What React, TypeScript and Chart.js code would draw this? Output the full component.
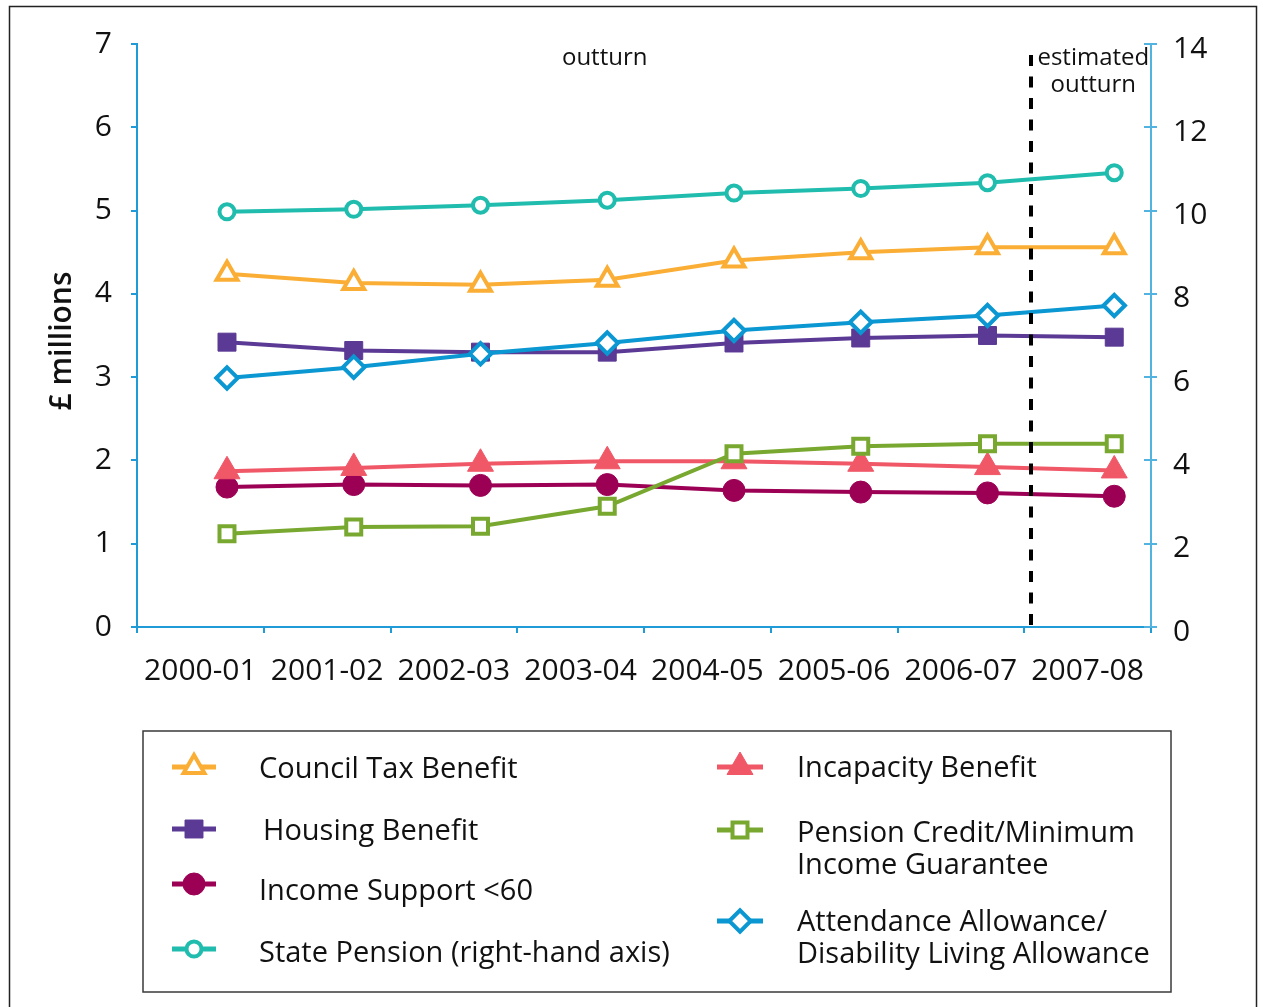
import React, { useEffect, useRef } from 'react';
import { Chart, registerables } from 'chart.js';
import { drawPoint } from 'chart.js/helpers';

Chart.register(...registerables);

// ---------- data ----------
const categories = ['2000-01', '2001-02', '2002-03', '2003-04', '2004-05', '2005-06', '2006-07', '2007-08'];
const councilTax = [4.24, 4.13, 4.11, 4.17, 4.40, 4.50, 4.56, 4.56];
const housing = [3.42, 3.32, 3.30, 3.30, 3.41, 3.47, 3.50, 3.48];
const incomeSupport = [1.68, 1.71, 1.70, 1.71, 1.64, 1.62, 1.61, 1.57];
const statePension = [9.97, 10.03, 10.13, 10.25, 10.42, 10.53, 10.67, 10.91]; // right-hand axis
const incapacity = [1.87, 1.91, 1.96, 1.99, 1.99, 1.96, 1.92, 1.88];
const pensionCredit = [1.12, 1.20, 1.21, 1.45, 2.08, 2.17, 2.20, 2.20];
const attendance = [2.99, 3.12, 3.28, 3.41, 3.56, 3.66, 3.74, 3.86];

const leftTicks = [0, 1, 2, 3, 4, 5, 6, 7];
const rightTicks = [0, 2, 4, 6, 8, 10, 12, 14];

// ---------- styling ----------
const FONT = "'Open Sans', sans-serif";
const AXIS_BLUE = '#1f9bd7';
const AXIS_BLUE_R = '#52b2e0';
const POINT_OFFSET = 0.71; // points sit right of category centre
const DIVIDER_AT = 7.05;   // position of dashed "estimated outturn" divider on the category scale

type SeriesDef = {
  key: string;
  label: string[];
  data: number[];
  axis: 'y' | 'y1';
  color: string;
  style: string;
  radius: number;
  filled: boolean;
  pbw: number;
  order: number;
};

const series: SeriesDef[] = [
  { key: 'ct', label: ['Council Tax Benefit'], data: councilTax, axis: 'y', color: '#fbae35', style: 'triangle', radius: 12, filled: false, pbw: 4, order: 3 },
  { key: 'hb', label: ['Housing Benefit'], data: housing, axis: 'y', color: '#5b3a95', style: 'rect', radius: 12.7, filled: true, pbw: 1, order: 6 },
  { key: 'is', label: ['Income Support <60'], data: incomeSupport, axis: 'y', color: '#9c0055', style: 'circle', radius: 11, filled: true, pbw: 1, order: 5 },
  { key: 'sp', label: ['State Pension (right-hand axis)'], data: statePension, axis: 'y1', color: '#20bcae', style: 'circle', radius: 7.5, filled: false, pbw: 4, order: 2 },
  { key: 'ib', label: ['Incapacity Benefit'], data: incapacity, axis: 'y', color: '#f05868', style: 'triangle', radius: 15, filled: true, pbw: 1, order: 4 },
  { key: 'pc', label: ['Pension Credit/Minimum', 'Income Guarantee'], data: pensionCredit, axis: 'y', color: '#78a82f', style: 'rect', radius: 10.6, filled: false, pbw: 4, order: 1 },
  { key: 'aa', label: ['Attendance Allowance/', 'Disability Living Allowance'], data: attendance, axis: 'y', color: '#0a97d2', style: 'rectRot', radius: 10.7, filled: false, pbw: 4, order: 0 },
];

// legend layout: [series key, marker y, text x, text baselines]
const legendLeft = [
  { key: 'ct', y: 767, tx: 259, ty: [778] },
  { key: 'hb', y: 829, tx: 263, ty: [840] },
  { key: 'is', y: 884, tx: 259, ty: [900] },
  { key: 'sp', y: 949, tx: 259, ty: [962] },
];
const legendRight = [
  { key: 'ib', y: 767, tx: 797, ty: [777] },
  { key: 'pc', y: 830, tx: 797, ty: [842, 874] },
  { key: 'aa', y: 921, tx: 797, ty: [931, 963] },
];

const overlayPlugin = {
  id: 'overlay',
  afterDatasetsDraw(chart: any) {
    const ctx = chart.ctx;
    const xs = chart.scales.xData;
    const area = chart.chartArea;
    const x = Math.round(xs.getPixelForValue(DIVIDER_AT));
    ctx.save();
    ctx.strokeStyle = '#000';
    ctx.lineWidth = 4;
    ctx.setLineDash([11, 10.5]);
    ctx.beginPath();
    ctx.moveTo(x, area.top + 11);
    ctx.lineTo(x, area.bottom + 7);
    ctx.stroke();
    ctx.restore();
  },
  afterDraw(chart: any) {
    const ctx = chart.ctx;
    const xs = chart.scales.xData;
    const y1 = chart.scales.y1;
    const area = chart.chartArea;
    ctx.save();

    // inward tick stubs on right axis
    ctx.strokeStyle = AXIS_BLUE_R;
    ctx.lineWidth = 2;
    rightTicks.forEach((v) => {
      const py = Math.round(y1.getPixelForValue(v));
      ctx.beginPath();
      ctx.moveTo(area.right - 7, py);
      ctx.lineTo(area.right, py);
      ctx.stroke();
    });

    // annotations
    ctx.fillStyle = '#111';
    ctx.font = `24px ${FONT}`;
    ctx.textAlign = 'center';
    ctx.textBaseline = 'alphabetic';
    ctx.fillText('outturn', xs.getPixelForValue(3.69), 65);
    ctx.fillText('estimated', xs.getPixelForValue(7.545), 65);
    ctx.fillText('outturn', xs.getPixelForValue(7.545), 92);

    // y-axis title
    ctx.save();
    ctx.translate(62, 341);
    ctx.rotate(-Math.PI / 2);
    ctx.font = `600 30px ${FONT}`;
    ctx.textAlign = 'center';
    ctx.textBaseline = 'middle';
    ctx.fillText('£ millions', 0, 0);
    ctx.restore();

    // legend box
    ctx.strokeStyle = '#3a3a3a';
    ctx.lineWidth = 1.5;
    ctx.strokeRect(143, 731, 1028, 261);

    const drawItem = (it: any, x1: number, x2: number, mx: number) => {
      const s = series.find((d) => d.key === it.key)!;
      ctx.strokeStyle = s.color;
      ctx.lineWidth = 5;
      ctx.setLineDash([]);
      ctx.beginPath();
      ctx.moveTo(x1, it.y);
      ctx.lineTo(x2, it.y);
      ctx.stroke();
      ctx.fillStyle = s.filled ? s.color : '#ffffff';
      ctx.strokeStyle = s.color;
      ctx.lineWidth = s.pbw;
      ctx.lineJoin = 'miter';
      drawPoint(ctx, { pointStyle: s.style, rotation: 0, radius: s.radius, borderWidth: s.pbw } as any, mx, it.y);
      ctx.fillStyle = '#111';
      ctx.font = `29px ${FONT}`;
      ctx.textAlign = 'left';
      ctx.textBaseline = 'alphabetic';
      s.label.forEach((line, i) => ctx.fillText(line, it.tx, it.ty[i]));
    };
    legendLeft.forEach((it) => drawItem(it, 172, 216, 194));
    legendRight.forEach((it) => drawItem(it, 717, 763, 740));

    // outer frame
    ctx.strokeStyle = '#222';
    ctx.lineWidth = 1.5;
    ctx.strokeRect(9.5, 6.5, 1247, 1020);
    ctx.restore();
  },
};

export default function App() {
  const ref = useRef<HTMLCanvasElement | null>(null);

  useEffect(() => {
    if (!ref.current) return;
    const datasets = series.map((s) => ({
      label: s.label.join(' '),
      data: s.data.map((v, i) => ({ x: i + POINT_OFFSET, y: v })),
      xAxisID: 'xData',
      yAxisID: s.axis,
      borderColor: s.color,
      backgroundColor: s.filled ? s.color : '#ffffff',
      borderWidth: 4,
      pointStyle: s.style,
      pointRadius: s.radius,
      pointHoverRadius: s.radius,
      pointBorderWidth: s.pbw,
      pointBackgroundColor: s.filled ? s.color : '#ffffff',
      pointBorderColor: s.color,
      tension: 0,
      fill: false,
      order: s.order,
    }));

    const chart = new Chart(ref.current, {
      type: 'line',
      data: { labels: categories, datasets },
      options: {
        responsive: false,
        animation: false,
        events: [],
        layout: { padding: { top: 44, left: 0, right: 0, bottom: 0 } },
        plugins: { legend: { display: false }, tooltip: { enabled: false } },
        scales: {
          x: {
            type: 'category',
            position: 'bottom',
            offset: true,
            grid: { offset: true, drawOnChartArea: false, tickLength: 6, color: AXIS_BLUE, lineWidth: 2 },
            border: { color: AXIS_BLUE, width: 2 },
            ticks: { color: '#111', font: { family: FONT, size: 30 }, padding: 20, maxRotation: 0, autoSkip: false },
            afterFit: (s: any) => { s.height = 1007 - 627; },
          },
          xData: {
            type: 'linear',
            position: 'bottom',
            display: false,
            min: 0,
            max: categories.length,
          },
          y: {
            type: 'linear',
            position: 'left',
            min: leftTicks[0],
            max: leftTicks[leftTicks.length - 1],
            afterBuildTicks: (s: any) => { s.ticks = leftTicks.map((v) => ({ value: v })); },
            grid: { drawOnChartArea: false, tickLength: 6, color: AXIS_BLUE, lineWidth: 2 },
            border: { color: AXIS_BLUE, width: 2 },
            ticks: { color: '#111', font: { family: FONT, size: 30 }, padding: 19 },
            afterFit: (s: any) => { s.width = 137; },
          },
          y1: {
            type: 'linear',
            position: 'right',
            min: rightTicks[0],
            max: rightTicks[rightTicks.length - 1],
            afterBuildTicks: (s: any) => { s.ticks = rightTicks.map((v) => ({ value: v })); },
            grid: { drawOnChartArea: false, tickLength: 6, color: AXIS_BLUE_R, lineWidth: 2 },
            border: { color: AXIS_BLUE_R, width: 2 },
            ticks: { color: '#111', font: { family: FONT, size: 30 }, padding: 16, labelOffset: 5 },
            afterFit: (s: any) => { s.width = 1263 - 1151; },
          },
        },
      },
      plugins: [overlayPlugin],
    } as any);
    return () => chart.destroy();
  }, []);

  return (
    <div style={{ position: 'absolute', left: 0, top: 0, width: 1263, height: 1007, background: '#fff' }}>
      <canvas ref={ref} width={1263} height={1007} />
    </div>
  );
}
